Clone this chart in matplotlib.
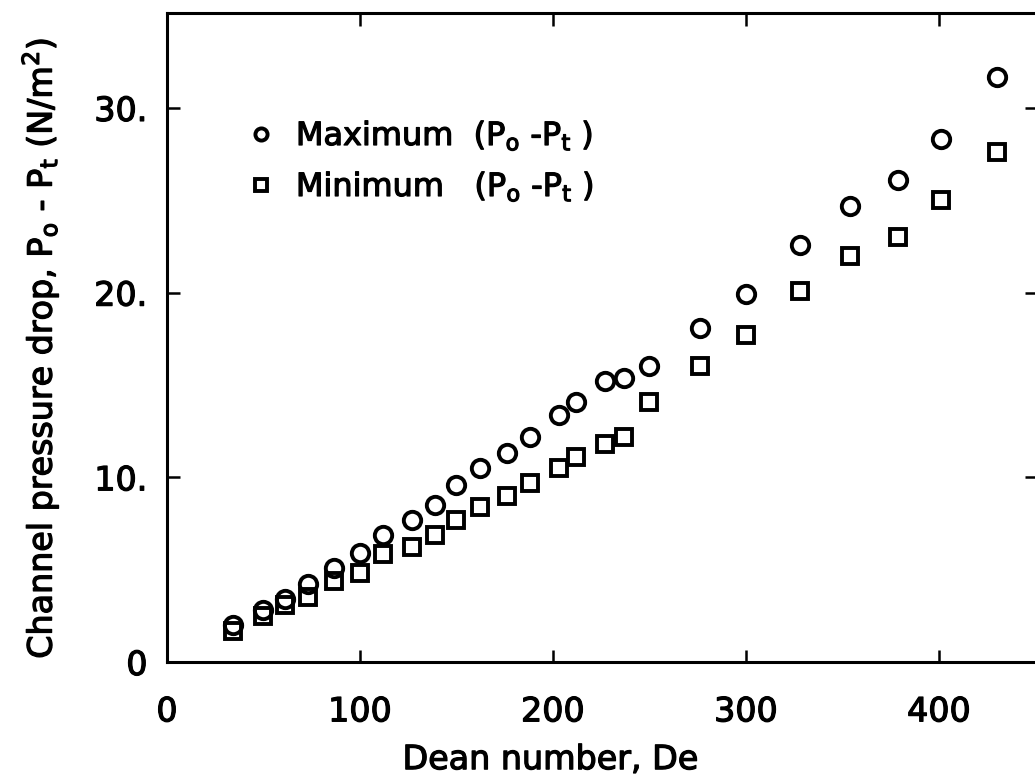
import matplotlib
matplotlib.use("Agg")
import matplotlib.pyplot as plt
import matplotlib.patheffects as pe

# Dean number and pressure drop
dean = [34, 50, 61, 73, 86.5, 100, 112, 127, 139, 150, 162, 176, 188, 203,
        212, 227, 237, 250, 276, 300, 328, 354, 379, 401, 430]
dp_max = [2.0, 2.8, 3.4, 4.2, 5.1, 5.9, 6.9, 7.7, 8.5, 9.6, 10.5, 11.3, 12.2,
          13.4, 14.1, 15.2, 15.4, 16.0, 18.1, 19.9, 22.6, 24.7, 26.1, 28.3, 31.7]
dp_min = [1.7, 2.5, 3.1, 3.5, 4.4, 4.8, 5.85, 6.2, 6.9, 7.7, 8.4, 9.0, 9.7,
          10.5, 11.1, 11.8, 12.2, 14.1, 16.0, 17.7, 20.1, 22.0, 23.0, 25.0, 27.6]

xticks = [0, 100, 200, 300, 400]
xtick_labels = ["0", "100", "200", "300", "400"]
yticks = [0, 10, 20, 30]
ytick_labels = ["0", "10.", "20.", "30."]

plt.rcParams["font.family"] = "DejaVu Sans"
bold = [pe.withStroke(linewidth=0.9, foreground="black")]

fig = plt.figure(figsize=(10.35, 7.82), dpi=100)
ax = fig.add_axes([167 / 1035, 120 / 782, 870 / 1035, 649 / 782])

ax.plot(dean, dp_max, linestyle="none", marker="o", markersize=12.5,
        markerfacecolor="none", markeredgecolor="black", markeredgewidth=2.8,
        label=r"Maximum  ($\mathregular{P_o}$ -$\mathregular{P_t}$ )")
ax.plot(dean, dp_min, linestyle="none", marker="s", markersize=12,
        markerfacecolor="none", markeredgecolor="black", markeredgewidth=2.8,
        label=r"Minimum   ($\mathregular{P_o}$ -$\mathregular{P_t}$ )")

ax.set_xlim(0, 450.8)
ax.set_ylim(0, 35.14)
ax.set_xticks(xticks)
ax.set_xticklabels(xtick_labels)
ax.set_yticks(yticks)
ax.set_yticklabels(ytick_labels)

ax.tick_params(direction="in", length=9, width=1.8, top=True, right=True,
               labelsize=24)
ax.tick_params(axis="x", pad=24)
ax.tick_params(axis="y", pad=14)
for s in ax.spines.values():
    s.set_linewidth(2.2)

xl = ax.set_xlabel("Dean number, De", fontsize=24)
ax.xaxis.set_label_coords(0.441, -0.125)
yl = ax.set_ylabel(r"Channel pressure drop, $\mathregular{P_o}$ - $\mathregular{P_t}$ (N/m$\mathregular{^2}$)",
                   fontsize=24)
ax.yaxis.set_label_coords(-0.122, 0.484)

leg = ax.legend(loc="upper left", bbox_to_anchor=(248 / 1035, 1 - 119 / 782),
                bbox_transform=fig.transFigure, frameon=False, fontsize=23,
                markerscale=0.7, handlelength=0.8, handletextpad=0.7,
                labelspacing=0.55, borderaxespad=0, borderpad=0)

for t in ax.get_xticklabels() + ax.get_yticklabels() + leg.get_texts() + [xl, yl]:
    t.set_path_effects(bold)

fig.savefig("out.png", dpi=100)
